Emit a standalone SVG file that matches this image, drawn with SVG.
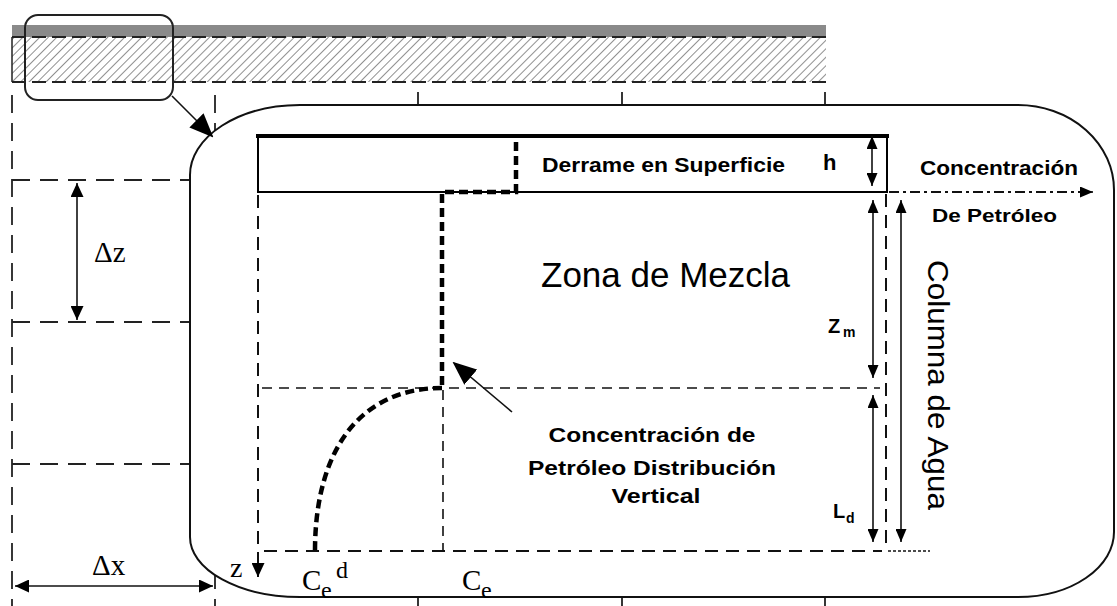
<svg xmlns="http://www.w3.org/2000/svg" width="1117" height="606" viewBox="0 0 1117 606">
<style>
.grid{stroke:#222;stroke-width:1.8;fill:none;stroke-dasharray:18 10}
.thin{stroke:#111;stroke-width:1.6;fill:none}
.dash{stroke:#111;stroke-width:2;fill:none;stroke-dasharray:13 8}
.dash2{stroke:#111;stroke-width:1.6;fill:none;stroke-dasharray:10 7}
.prof{stroke:#000;stroke-width:4.5;fill:none;stroke-dasharray:9 5}
.bold{font-family:"Liberation Sans",Arial,sans-serif;font-weight:bold;fill:#000}
.reg{font-family:"Liberation Sans",Arial,sans-serif;fill:#000}
.serif{font-family:"Liberation Serif","Times New Roman",serif;fill:#000}
</style>
<defs>
<pattern id="hatch" patternUnits="userSpaceOnUse" width="6" height="6" patternTransform="rotate(45)">
<line x1="0" y1="0" x2="0" y2="6" stroke="#444" stroke-width="1.2"/>
</pattern>
<marker id="ah" markerUnits="userSpaceOnUse" markerWidth="13" markerHeight="11" refX="13" refY="5.5" orient="auto-start-reverse">
<path d="M0,0 L13,5.5 L0,11 Z" fill="#000"/>
</marker>
<marker id="ahL" markerUnits="userSpaceOnUse" markerWidth="14" markerHeight="13" refX="14" refY="6.5" orient="auto-start-reverse">
<path d="M0,0 L14,6.5 L0,13 Z" fill="#000"/>
</marker>
<marker id="big" markerUnits="userSpaceOnUse" markerWidth="24" markerHeight="20" refX="22" refY="10" orient="auto">
<path d="M0,0 L24,10 L0,20 Z" fill="#000"/>
</marker>
</defs>
<rect width="1117" height="606" fill="#fff"/>

<g id="grid">
<line class="grid" x1="12" y1="95" x2="12" y2="606"/>
<line class="grid" x1="215" y1="95" x2="215" y2="606"/>
<line class="grid" x1="418" y1="92" x2="418" y2="606"/>
<line class="grid" x1="622" y1="92" x2="622" y2="606"/>
<line class="grid" x1="825" y1="92" x2="825" y2="606"/>
<line class="grid" x1="12" y1="180" x2="215" y2="180"/>
<line class="grid" x1="12" y1="322" x2="215" y2="322"/>
<line class="grid" x1="12" y1="464" x2="215" y2="464"/>
</g>

<g id="surface-band">
<rect x="12" y="25" width="814" height="12" fill="#8a8a8a"/>
<rect x="12" y="37" width="814" height="45" fill="url(#hatch)"/>
<line x1="12" y1="37" x2="826" y2="37" stroke="#222" stroke-width="2" stroke-dasharray="14 6"/>
<line x1="12" y1="82" x2="826" y2="82" stroke="#222" stroke-width="2" stroke-dasharray="14 6"/>
<line x1="12" y1="37" x2="12" y2="82" stroke="#222" stroke-width="1.5"/>
</g>

<g id="callout">
<rect x="25" y="15" width="148" height="85" rx="13" fill="none" stroke="#222" stroke-width="2"/>
</g>

<g id="box">
<path d="M300,105 H1018 A96,85 0 0 1 1114,190 V532 A96,65 0 0 1 1018,597 H300 A110,60 0 0 1 190,537 V175 A110,70 0 0 1 300,105 Z" fill="#fff" stroke="#111" stroke-width="2"/>
</g>

<g id="spill">
<path d="M258,192 V137 H887 V192 Z" fill="none" stroke="#000" stroke-width="2"/>
<line x1="256" y1="136" x2="889" y2="136" stroke="#000" stroke-width="4"/>
<text class="bold" x="542" y="172" font-size="21" textLength="243" lengthAdjust="spacingAndGlyphs">Derrame en Superficie</text>
<text class="bold" x="823" y="170" font-size="22">h</text>
</g>

<g id="mixing-zone">
<text class="reg" x="541" y="287" font-size="35">Zona de Mezcla</text>
<text class="bold" x="828" y="333" font-size="20">Z</text>
<text class="bold" x="843" y="337" font-size="14">m</text>
</g>

<g id="profile-label">
<text class="bold" font-size="21" x="652" y="442" text-anchor="middle" textLength="207" lengthAdjust="spacingAndGlyphs">Concentración de</text>
<text class="bold" font-size="21" x="652" y="475" text-anchor="middle" textLength="248" lengthAdjust="spacingAndGlyphs">Petróleo Distribución</text>
<text class="bold" font-size="21" x="656" y="503" text-anchor="middle" textLength="89" lengthAdjust="spacingAndGlyphs">Vertical</text>
</g>

<g id="ld-label">
<text class="bold" x="833" y="518" font-size="20">L</text>
<text class="bold" x="846" y="523" font-size="14">d</text>
</g>

<g id="water-column">
<text class="reg" font-size="29" transform="translate(928,385) rotate(90)" text-anchor="middle" textLength="250" lengthAdjust="spacingAndGlyphs">Columna de Agua</text>
</g>

<g id="conc-axis">
<text class="bold" x="920" y="175" font-size="20" textLength="158" lengthAdjust="spacingAndGlyphs">Concentración</text>
<text class="bold" x="932" y="222" font-size="19" textLength="125" lengthAdjust="spacingAndGlyphs">De Petróleo</text>
</g>

<g id="axis-labels">
<text class="serif" x="94" y="262" font-size="29">Δz</text>
<text class="serif" x="92" y="575" font-size="29">Δx</text>
<text class="serif" x="230" y="577" font-size="28">z</text>
<text class="serif" x="302" y="590" font-size="29">C</text>
<text class="serif" x="321" y="598" font-size="24">e</text>
<text class="serif" x="336" y="578" font-size="24">d</text>
<text class="serif" x="462" y="590" font-size="29">C</text>
<text class="serif" x="481" y="598" font-size="24">e</text>
</g>

<g id="connectors">
<line class="thin" x1="172" y1="96" x2="212" y2="136" stroke-width="4" marker-end="url(#big)"/>
<line class="thin" x1="77" y1="183" x2="77" y2="320" marker-start="url(#ahL)" marker-end="url(#ahL)"/>
<line class="thin" x1="15" y1="586" x2="213" y2="586" marker-start="url(#ahL)" marker-end="url(#ahL)"/>
<line class="dash" x1="258" y1="195" x2="258" y2="577" marker-end="url(#ahL)"/>
<line class="dash" x1="264" y1="551" x2="882" y2="551"/>
<line x1="888" y1="551" x2="930" y2="551" stroke="#111" stroke-width="1.5" stroke-dasharray="3 2"/>
<line class="dash2" x1="262" y1="388" x2="880" y2="388"/>
<line class="dash2" x1="443" y1="390" x2="443" y2="551"/>
<path class="prof" d="M516,142 V192 H442 V388"/>
<path class="prof" d="M442,388 C360,388 315,450 315,551"/>
<line class="thin" x1="512" y1="412" x2="454" y2="363" stroke-width="4" marker-end="url(#big)"/>
<line class="thin" x1="872" y1="136" x2="872" y2="186" marker-start="url(#ah)" marker-end="url(#ah)"/>
<line class="thin" x1="873" y1="200" x2="873" y2="378" marker-start="url(#ah)" marker-end="url(#ah)"/>
<line class="thin" x1="873" y1="395" x2="873" y2="542" marker-start="url(#ah)" marker-end="url(#ah)"/>
<line class="dash" x1="886" y1="194" x2="886" y2="551"/>
<line class="thin" x1="901" y1="200" x2="901" y2="542" marker-start="url(#ah)" marker-end="url(#ah)"/>
<line x1="889" y1="192" x2="1082" y2="192" stroke="#111" stroke-width="2" stroke-dasharray="10 4 3 4"/>
<line class="thin" x1="1080" y1="192" x2="1093" y2="192" stroke-width="2" marker-end="url(#ah)"/>
</g>
</svg>
